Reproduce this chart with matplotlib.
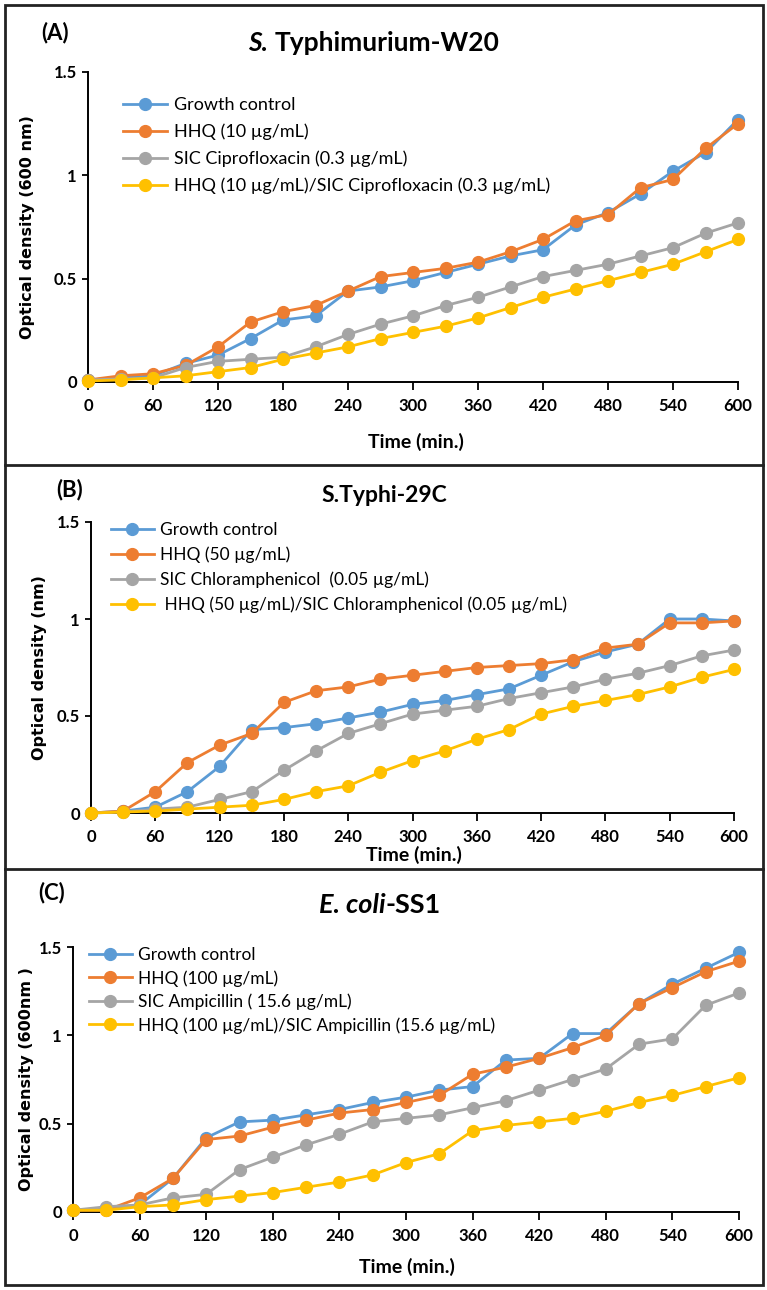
import matplotlib
matplotlib.use('Agg')
import matplotlib.pyplot as plt
from matplotlib.offsetbox import TextArea, HPacker, AnnotationBbox
from matplotlib.lines import Line2D
from matplotlib.patches import Rectangle

W, H = 767, 1290

time_min = list(range(0, 601, 30))
x_ticks = list(range(0, 601, 60))
y_ticks = [0, 0.5, 1, 1.5]
y_ticklabels = ['0', '0.5', '1', '1.5']

# Panel A: S. Typhimurium-W20
a_growth = [0.01, 0.02, 0.03, 0.09, 0.13, 0.21, 0.30, 0.32, 0.44, 0.46, 0.49, 0.53, 0.57, 0.61, 0.64, 0.76, 0.82, 0.91, 1.02, 1.11, 1.27]
a_hhq = [0.01, 0.03, 0.04, 0.08, 0.17, 0.29, 0.34, 0.37, 0.44, 0.51, 0.53, 0.55, 0.58, 0.63, 0.69, 0.78, 0.81, 0.94, 0.98, 1.13, 1.25]
a_sic = [0.01, 0.015, 0.02, 0.07, 0.10, 0.11, 0.12, 0.17, 0.23, 0.28, 0.32, 0.37, 0.41, 0.46, 0.51, 0.54, 0.57, 0.61, 0.65, 0.72, 0.77]
a_combo = [0.005, 0.01, 0.02, 0.03, 0.05, 0.07, 0.11, 0.14, 0.17, 0.21, 0.24, 0.27, 0.31, 0.36, 0.41, 0.45, 0.49, 0.53, 0.57, 0.63, 0.69]
a_labels = ['Growth control', 'HHQ (10 µg/mL)', 'SIC Ciprofloxacin (0.3 µg/mL)',
            'HHQ (10 µg/mL)/SIC Ciprofloxacin (0.3 µg/mL)']

# Panel B: S.Typhi-29C
b_growth = [0, 0.01, 0.03, 0.11, 0.24, 0.43, 0.44, 0.46, 0.49, 0.52, 0.56, 0.58, 0.61, 0.64, 0.71, 0.78, 0.83, 0.87, 1.00, 1.00, 0.99]
b_hhq = [0, 0.01, 0.11, 0.26, 0.35, 0.41, 0.57, 0.63, 0.65, 0.69, 0.71, 0.73, 0.75, 0.76, 0.77, 0.79, 0.85, 0.87, 0.98, 0.98, 0.99]
b_sic = [0, 0.005, 0.02, 0.03, 0.07, 0.11, 0.22, 0.32, 0.41, 0.46, 0.51, 0.53, 0.55, 0.59, 0.62, 0.65, 0.69, 0.72, 0.76, 0.81, 0.84]
b_combo = [0, 0.005, 0.01, 0.02, 0.03, 0.04, 0.07, 0.11, 0.14, 0.21, 0.27, 0.32, 0.38, 0.43, 0.51, 0.55, 0.58, 0.61, 0.65, 0.70, 0.74]
b_labels = ['Growth control', 'HHQ (50 µg/mL)', 'SIC Chloramphenicol  (0.05 µg/mL)',
            ' HHQ (50 µg/mL)/SIC Chloramphenicol (0.05 µg/mL)']

# Panel C: E. coli-SS1
c_growth = [0.01, 0.02, 0.04, 0.19, 0.42, 0.51, 0.52, 0.55, 0.58, 0.62, 0.65, 0.69, 0.71, 0.86, 0.87, 1.01, 1.01, 1.18, 1.29, 1.38, 1.47]
c_hhq = [0.01, 0.01, 0.08, 0.19, 0.41, 0.43, 0.48, 0.52, 0.56, 0.58, 0.62, 0.66, 0.78, 0.82, 0.87, 0.93, 1.00, 1.18, 1.27, 1.36, 1.42]
c_sic = [0.01, 0.03, 0.04, 0.08, 0.10, 0.24, 0.31, 0.38, 0.44, 0.51, 0.53, 0.55, 0.59, 0.63, 0.69, 0.75, 0.81, 0.95, 0.98, 1.17, 1.24]
c_combo = [0.01, 0.01, 0.03, 0.04, 0.07, 0.09, 0.11, 0.14, 0.17, 0.21, 0.28, 0.33, 0.46, 0.49, 0.51, 0.53, 0.57, 0.62, 0.66, 0.71, 0.76]
c_labels = ['Growth control', 'HHQ (100 µg/mL)', 'SIC Ampicillin ( 15.6 µg/mL)',
            'HHQ (100 µg/mL)/SIC Ampicillin (15.6 µg/mL)']

colors = ['#5B9BD5', '#ED7D31', '#A5A5A5', '#FFC000']

plt.rcParams['font.family'] = ['Lato', 'DejaVu Sans']

fig = plt.figure(figsize=(W / 100, H / 100), dpi=100)
fig.patch.set_facecolor('white')


def fx(px):
    return px / W


def fy(py):
    return 1 - py / H


def make_panel(rect_px, series, labels, ylabel, legend_px, legend_fs, legend_sp,
               xlabel_px, ylabel_x):
    x0, x1, ytop, ybot = rect_px
    ax = fig.add_axes([fx(x0), fy(ybot), fx(x1 - x0), (ybot - ytop) / H])
    for s, c, lab in zip(series, colors, labels):
        ax.plot(time_min, s, color=c, lw=2.0, marker='o', ms=8.5, label=lab,
                clip_on=False, zorder=3)
    ax.set_xlim(0, 600)
    ax.set_ylim(0, 1.5)
    ax.set_xticks(x_ticks)
    ax.set_yticks(y_ticks)
    ax.set_yticklabels(y_ticklabels)
    for sp in ['top', 'right']:
        ax.spines[sp].set_visible(False)
    for sp in ['left', 'bottom']:
        ax.spines[sp].set_linewidth(1.4)
        ax.spines[sp].set_color('black')
    ax.tick_params(axis='x', length=5.5, width=1.3, direction='out',
                   labelsize=12, pad=6)
    ax.tick_params(axis='y', length=4.0, width=1.3, direction='out',
                   labelsize=12, pad=4)
    for t in ax.get_xticklabels() + ax.get_yticklabels():
        t.set_fontweight('bold')
    ax.set_facecolor('none')
    lx, ly = legend_px
    ax.legend(loc='upper left', bbox_to_anchor=(fx(lx), fy(ly)),
              bbox_transform=fig.transFigure, frameon=False,
              fontsize=legend_fs, borderpad=0, borderaxespad=0,
              handlelength=2.45, handletextpad=0.4,
              labelspacing=legend_sp, numpoints=1)
    fig.text(fx(xlabel_px[0]), fy(xlabel_px[1]), 'Time (min.)', fontsize=14,
             fontweight='bold', ha='center', va='center')
    fig.text(fx(ylabel_x), fy((ytop + ybot) / 2), ylabel, rotation=90,
             fontsize=11.5, fontweight='bold', family='DejaVu Sans',
             ha='center', va='center')
    return ax


make_panel((88, 738, 72, 382), [a_growth, a_hhq, a_sic, a_combo], a_labels,
           'Optical density (600 nm)', (123, 97), 13, 0.58, (416, 442), 28)
make_panel((91, 734, 522, 813), [b_growth, b_hhq, b_sic, b_combo], b_labels,
           'Optical density (nm)', (111, 522), 12.5, 0.49, (414, 855), 40)
make_panel((73, 739, 947, 1212), [c_growth, c_hhq, c_sic, c_combo], c_labels,
           'Optical density (600nm )', (89, 947), 12.5, 0.40, (407, 1267), 27)


def title(parts, center_px, fs, sep=0):
    boxes = [TextArea(t, textprops=dict(fontsize=fs, fontweight='bold',
                                        fontstyle=st, color='black'))
             for t, st in parts]
    pack = HPacker(children=boxes, align='baseline', pad=0, sep=sep)
    ab = AnnotationBbox(pack, (fx(center_px[0]), fy(center_px[1])),
                        xycoords='figure fraction', frameon=False,
                        box_alignment=(0.5, 0.5))
    fig.add_artist(ab)


title([('S.', 'italic'), ('Typhimurium-W20', 'normal')], (374, 43), 19, sep=5)
title([('S.Typhi-29C', 'normal')], (384, 496), 16.5)
title([('E. coli', 'italic'), ('-SS1', 'normal')], (380, 905), 19.5, sep=0)

fig.text(fx(55), fy(33), '(A)', fontsize=16, fontweight='bold', ha='center', va='center')
fig.text(fx(70), fy(490), '(B)', fontsize=16, fontweight='bold', ha='center', va='center')
fig.text(fx(52), fy(893), '(C)', fontsize=16, fontweight='bold', ha='center', va='center')

# frame and separators
fig.add_artist(Rectangle((fx(5), fy(1285)), fx(758), (1285 - 5) / H,
                         transform=fig.transFigure, fill=False,
                         edgecolor='#222222', lw=2.0))
for ysep in (465, 869):
    fig.add_artist(Line2D([fx(5), fx(763)], [fy(ysep), fy(ysep)],
                          transform=fig.transFigure, color='#222222', lw=2.0))

fig.savefig('out.png', dpi=100)
